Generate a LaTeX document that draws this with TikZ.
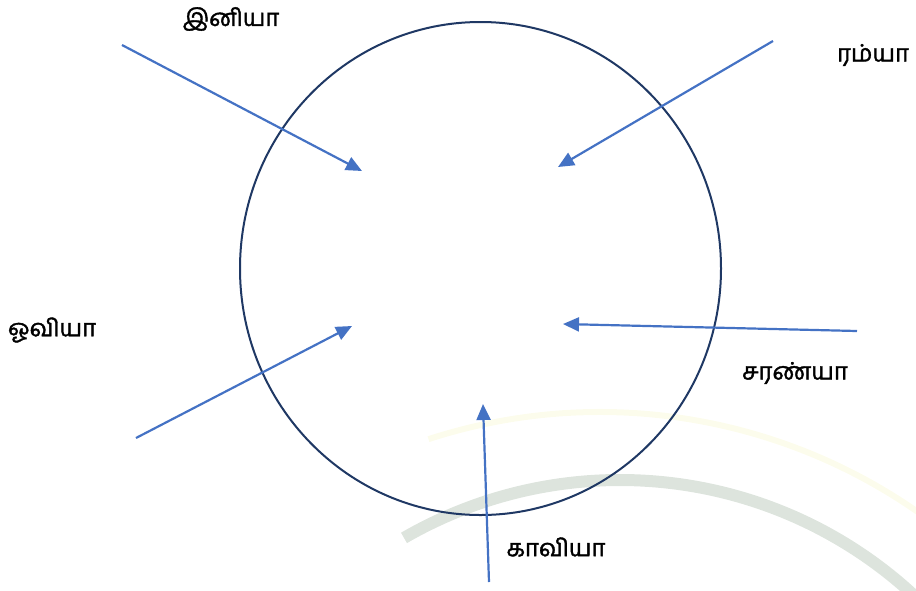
\documentclass[tikz,border=0pt]{standalone}
\usepackage{fontspec}
\newfontfamily\tamilfont[Script=Tamil, FakeBold=1.5]{Hind Madurai}
\usepackage{xcolor}
\usetikzlibrary{arrows.meta, shapes.geometric}
\definecolor{arrowblue}{HTML}{4472C4}
\definecolor{ringblue}{HTML}{1F3864}
\definecolor{markgrey}{HTML}{DDE4DD}
\definecolor{markyellow}{HTML}{FCFCEC}

\begin{document}
\begin{tikzpicture}[
    x=1pt, y=-1pt,
    every node/.style={font=\tamilfont\fontsize{24}{28}\selectfont},
    lbl/.style={inner sep=0pt},
    arr/.style={draw=arrowblue, line width=2.2pt, -{Triangle[length=16pt, width=14pt]}},
    ring/.style={draw=ringblue, line width=2pt, ellipse, minimum width=481pt, minimum height=493pt, inner sep=0pt}
]
\useasboundingbox (0,0) rectangle (916,590);

% faint watermark
\begin{scope}
\clip (0,0) rectangle (916,590);
\draw[markyellow, line width=6pt] (600,967) ++(-108:555) arc[start angle=-108, end angle=-40, radius=555];
\draw[markgrey, line width=12pt] (620,912) ++(-120:432) arc[start angle=-120, end angle=-20, radius=432];
\end{scope}

\node[ring] (ring) at (480.5,268.5) {};

% names
\node[lbl] (iniya)   at (231,19)  {இனியா};
\node[lbl] (ramya)   at (873,55)  {ரம்யா};
\node[lbl] (oviya)   at (52,330)  {ஓவியா};
\node[lbl] (saranya) at (795,373) {சரண்யா};
\node[lbl] (kaviya)  at (556,547) {காவியா};

% arrow ends
\coordinate (s1) at (122,45);  \coordinate (t1) at (362,171);
\coordinate (s2) at (773,41);  \coordinate (t2) at (558,167);
\coordinate (s3) at (136,438); \coordinate (t3) at (352,326);
\coordinate (s4) at (857,331); \coordinate (t4) at (563,324);
\coordinate (s5) at (489,582); \coordinate (t5) at (483,404);

\draw[arr] (s1) -- (t1);
\draw[arr] (s2) -- (t2);
\draw[arr] (s3) -- (t3);
\draw[arr] (s4) -- (t4);
\draw[arr] (s5) -- (t5);
\end{tikzpicture}
\end{document}
